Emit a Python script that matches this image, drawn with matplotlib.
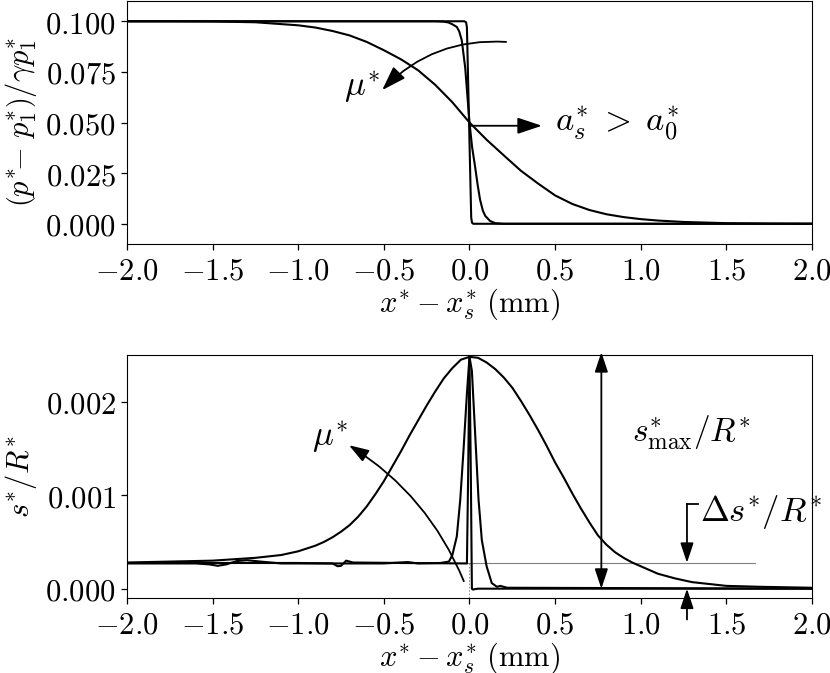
import matplotlib
matplotlib.use("Agg")
import matplotlib.pyplot as plt
import matplotlib.ticker as ticker

plt.rcParams['mathtext.fontset'] = 'cm'
plt.rcParams['font.family'] = 'serif'
plt.rcParams['font.serif'] = ['DejaVu Serif']

# top panel: normalised pressure across the shock, three curves
x_wide = [-2.0, -1.75, -1.5, -1.25, -1.0, -0.9, -0.8, -0.7, -0.6, -0.5, -0.4, -0.3, -0.2,
          -0.1, 0.0, 0.1, 0.2, 0.3, 0.4, 0.5, 0.6, 0.7, 0.8, 0.9, 1.0, 1.1, 1.25, 1.5,
          1.75, 2.0]
p_wide = [0.1000, 0.1000, 0.0999, 0.0995, 0.0980, 0.0969, 0.0952, 0.0930, 0.0898, 0.0857,
          0.0812, 0.0758, 0.0686, 0.0600, 0.0500, 0.0415, 0.0338, 0.0262, 0.0199, 0.0140,
          0.0098, 0.0068, 0.0047, 0.0033, 0.0023, 0.0016, 0.0009, 0.0003, 0.0001, 0.0]

x_mid = [-2.0, -0.2, -0.15, -0.123, -0.1, -0.074, -0.06, -0.045, -0.025, 0.0, 0.015, 0.033,
         0.048, 0.062, 0.078, 0.092, 0.12, 0.15, 0.2, 2.0]
p_mid = [0.1, 0.1, 0.0998, 0.0994, 0.0985, 0.0972, 0.0950, 0.0906, 0.0770, 0.0500, 0.0380,
         0.0280, 0.0190, 0.0118, 0.0065, 0.0039, 0.0014, 0.0003, 0.0, 0.0]

x_sharp = [-2.0, -0.03, -0.02, -0.015, 0.01, 0.015, 0.022, 2.0]
p_sharp = [0.1, 0.1, 0.0995, 0.097, 0.003, 0.0005, 0.0, 0.0]

# bottom panel: s*/R* across the shock
x_bell = [-2.0, -1.75, -1.5, -1.25, -1.1, -1.0, -0.9, -0.85, -0.8, -0.75, -0.7, -0.65, -0.6,
          -0.55, -0.5, -0.45, -0.4, -0.35, -0.3, -0.25, -0.2, -0.15, -0.1, -0.05, 0.0, 0.05,
          0.1, 0.15, 0.2, 0.25, 0.3, 0.35, 0.4, 0.45, 0.5, 0.55, 0.6, 0.65, 0.7, 0.75, 0.8,
          0.85, 0.9, 0.95, 1.0, 1.1, 1.2, 1.3, 1.4, 1.5, 1.7, 2.0]
s_bell = [0.00028, 0.00029, 0.00030, 0.00033, 0.00036, 0.00040, 0.00046, 0.00050, 0.00055,
          0.00061, 0.00068, 0.00077, 0.00088, 0.00101, 0.00115, 0.00131, 0.00147, 0.00164,
          0.00180, 0.00196, 0.00211, 0.00225, 0.00236, 0.00245, 0.00248, 0.00247, 0.00242,
          0.00235, 0.00226, 0.00215, 0.00201, 0.00186, 0.00170, 0.00153, 0.00135, 0.00119,
          0.00102, 0.00086, 0.00071, 0.00057, 0.00047, 0.00039, 0.00033, 0.00028, 0.00024,
          0.00016, 0.00011, 0.00007, 0.00005, 0.00003, 0.00002, 0.00001]

x_spk = [-2.0, -1.6, -1.52, -1.47, -1.42, -1.36, -1.3, -1.22, -1.1, -0.5, -0.36, -0.3, -0.17,
         -0.12, -0.1, -0.074, -0.054, -0.035, -0.015, 0.0, 0.014, 0.033, 0.053, 0.072, 0.1,
         0.13, 0.16, 0.18, 0.22, 2.0]
s_spk = [0.00027, 0.00027, 0.00026, 0.000245, 0.00026, 0.000295, 0.000305, 0.00029, 0.00027,
         0.00027, 0.000285, 0.00027, 0.000275, 0.00029, 0.00036, 0.00056, 0.00095, 0.00148,
         0.00209, 0.00248, 0.00233, 0.00166, 0.00095, 0.00052, 0.00024, 0.00006, 0.00002,
         0.00003, 0.00001, 0.0]

x_thin = [-2.0, -1.0, -0.8, -0.77, -0.75, -0.72, -0.68, -0.4, -0.015, -0.008, 0.0, 0.008,
          0.014, 0.02, 0.03, 0.05, 2.0]
s_thin = [0.000275, 0.000275, 0.00027, 0.00024, 0.000245, 0.0003, 0.00028, 0.000275, 0.00027,
          0.0012, 0.00248, 0.0012, 0.0, -0.00001, -0.000005, 0.0, 0.0]

s_ref = 0.000277
x_ref_end = 1.67

x_ticks = [-2.0, -1.5, -1.0, -0.5, 0.0, 0.5, 1.0, 1.5, 2.0]
p_ticks = [0.0, 0.025, 0.05, 0.075, 0.1]
s_ticks = [0.0, 0.001, 0.002]

FS = 22
AFS = 25

fig = plt.figure(figsize=(8.3, 6.73), dpi=100)
ax1 = fig.add_axes([0.153, 0.6374, 0.8253, 0.3611])
ax2 = fig.add_axes([0.153, 0.1114, 0.8253, 0.3611])

for x, y in [(x_wide, p_wide), (x_mid, p_mid), (x_sharp, p_sharp)]:
    ax1.plot(x, y, color='k', lw=1.5)

ax2.plot([-2.0, x_ref_end], [s_ref, s_ref], color='0.5', lw=0.8)
ax2.plot([0, 0], [-0.0001, s_ref], color='0.5', lw=0.6, ls=(0, (2, 2)))
for x, y in [(x_bell, s_bell), (x_spk, s_spk), (x_thin, s_thin)]:
    ax2.plot(x, y, color='k', lw=1.5)

fmt_x = ticker.FuncFormatter(lambda v, p: r'$%.1f$' % v)
for ax in (ax1, ax2):
    ax.set_xlim(-2, 2)
    ax.set_xticks(x_ticks)
    ax.xaxis.set_major_formatter(fmt_x)
    ax.tick_params(labelsize=FS, length=4.5, width=0.9)
    ax.set_xlabel(r'$x^{*}-x_s^{*}\ \mathrm{(mm)}$', fontsize=FS, labelpad=0)

ax1.set_ylim(-0.01, 0.11)
ax1.set_yticks(p_ticks)
ax1.yaxis.set_major_formatter(ticker.FuncFormatter(lambda v, p: r'$%.3f$' % v))
ax1.set_ylabel(r'$\left(p^{*}\!{-}\ p_1^{*}\right)/\gamma p_1^{*}$', fontsize=FS, labelpad=5)

ax2.set_ylim(-0.0001, 0.0025)
ax2.set_yticks(s_ticks)
ax2.yaxis.set_major_formatter(ticker.FuncFormatter(lambda v, p: r'$%.3f$' % v))
ax2.set_ylabel(r'$s^{*}/R^{*}$', fontsize=FS, labelpad=5)

big = dict(arrowstyle='-|>,head_length=0.75,head_width=0.25', color='k', lw=1.3,
           shrinkA=0, shrinkB=0, mutation_scale=20)
small = dict(arrowstyle='-|>,head_length=0.6,head_width=0.2', color='k', lw=1.3,
             shrinkA=0, shrinkB=0, mutation_scale=20)

# top panel annotations
ax1.annotate('', xy=(-0.51, 0.066), xytext=(0.214, 0.0898),
             arrowprops=dict(big, connectionstyle='arc3,rad=0.23'))
ax1.text(-0.73, 0.0627, r'$\mu^{*}$', fontsize=AFS, ha='left', va='baseline')
ax1.annotate('', xy=(0.423, 0.0484), xytext=(0.0, 0.0484), arrowprops=big)
ax1.text(0.5, 0.0455, r'$a_s^{*}\;>\;a_0^{*}$', fontsize=AFS, ha='left', va='baseline')

# bottom panel annotations
ax2.annotate('', xy=(-0.704, 0.001535), xytext=(-0.033, 0.00008),
             arrowprops=dict(small, connectionstyle='arc3,rad=0.16'))
ax2.text(-0.918, 0.00152, r'$\mu^{*}$', fontsize=AFS, ha='left', va='baseline')

ax2.annotate('', xy=(0.77, 0.00253), xytext=(0.77, 0.0),
             arrowprops=dict(small, arrowstyle='<|-|>,head_length=0.6,head_width=0.2'),
             annotation_clip=False)
ax2.text(0.948, 0.00157, r'$s^{*}_{\mathrm{max}}/R^{*}$', fontsize=24, ha='left', va='baseline')

ax2.plot([1.27, 1.337], [0.000907, 0.000907], color='k', lw=1.3)
ax2.annotate('', xy=(1.27, s_ref), xytext=(1.27, 0.000907), arrowprops=small)
ax2.annotate('', xy=(1.27, 0.0), xytext=(1.27, -0.00033), arrowprops=small,
             annotation_clip=False)
ax2.text(1.346, 0.000727, r'$\Delta s^{*}/R^{*}$', fontsize=AFS, ha='left', va='baseline')

fig.savefig('out.png', dpi=100)
